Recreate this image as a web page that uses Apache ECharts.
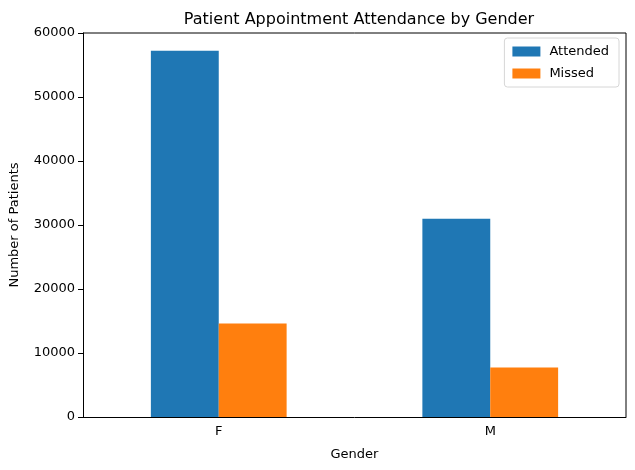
<!DOCTYPE html>
<html lang="en">
<head>
    <meta charset="UTF-8">
    <title>Patient Appointment Attendance by Gender</title>
    <script src="https://cdn.jsdelivr.net/npm/echarts@6/dist/echarts.min.js"></script>
    <style>
        html, body { margin: 0; padding: 0; background: #fff; }
        #chart { width: 635px; height: 470px; }
    </style>
</head>
<body>
<div id="chart"></div>
<script>
    var genders = ['F', 'M'];
    var attended = [57246, 30962];
    var missed = [14594, 7725];
    var yTicks = [0, 10000, 20000, 30000, 40000, 50000, 60000];

    var font = 'DejaVu Sans';
    var chart = echarts.init(document.getElementById('chart'));
    chart.setOption({
        animation: false,
        textStyle: { fontFamily: font },
        title: {
            text: 'Patient Appointment Attendance by Gender',
            left: 354, top: 7, textAlign: 'center',
            textStyle: { fontFamily: font, fontSize: 16, fontWeight: 'normal', color: '#000' }
        },
        legend: {
            data: ['Attended', 'Missed'],
            orient: 'vertical',
            right: 16, top: 38,
            itemWidth: 28, itemHeight: 10, itemGap: 9,
            padding: [7, 10, 7, 8],
            borderColor: '#d6d6d6', borderWidth: 1, borderRadius: 3,
            icon: 'rect',
            textStyle: { fontFamily: font, fontSize: 13, color: '#000', padding: [0, 0, 0, 4] }
        },
        grid: { left: 83, right: 9, top: 33, bottom: 53, containLabel: false },
        xAxis: {
            type: 'category',
            data: genders,
            name: 'Gender', nameLocation: 'middle', nameGap: 31,
            nameTextStyle: { fontFamily: font, fontSize: 13, color: '#000' },
            axisLine: { lineStyle: { color: '#000' } },
            axisTick: { alignWithLabel: true, length: 5, lineStyle: { color: '#000' } },
            axisLabel: { fontFamily: font, fontSize: 13, color: '#000', margin: 8 }
        },
        yAxis: {
            type: 'value',
            min: 0, max: 60000, interval: 10000,
            name: 'Number of Patients', nameLocation: 'middle', nameGap: 62,
            nameTextStyle: { fontFamily: font, fontSize: 13, color: '#000' },
            axisLine: { show: true, lineStyle: { color: '#000' } },
            axisTick: { show: true, length: 5, lineStyle: { color: '#000' } },
            splitLine: { show: false },
            axisLabel: {
                fontFamily: font, fontSize: 13, color: '#000', margin: 8,
                formatter: function (v) { return yTicks.indexOf(v) >= 0 ? String(v) : ''; }
            }
        },
        series: [
            {
                name: 'Attended', type: 'bar', data: attended,
                itemStyle: { color: '#1f77b4' },
                barGap: '0%', barCategoryGap: '50%'
            },
            {
                name: 'Missed', type: 'bar', data: missed,
                itemStyle: { color: '#ff7f0e' }
            }
        ]
    });
    // 右边和上边的框线
    chart.setOption({
        graphic: [{
            type: 'polyline',
            shape: { points: [[83, 33], [626, 33], [626, 417]] },
            style: { stroke: '#000', lineWidth: 1, fill: null }
        }]
    });
</script>
</body>
</html>
